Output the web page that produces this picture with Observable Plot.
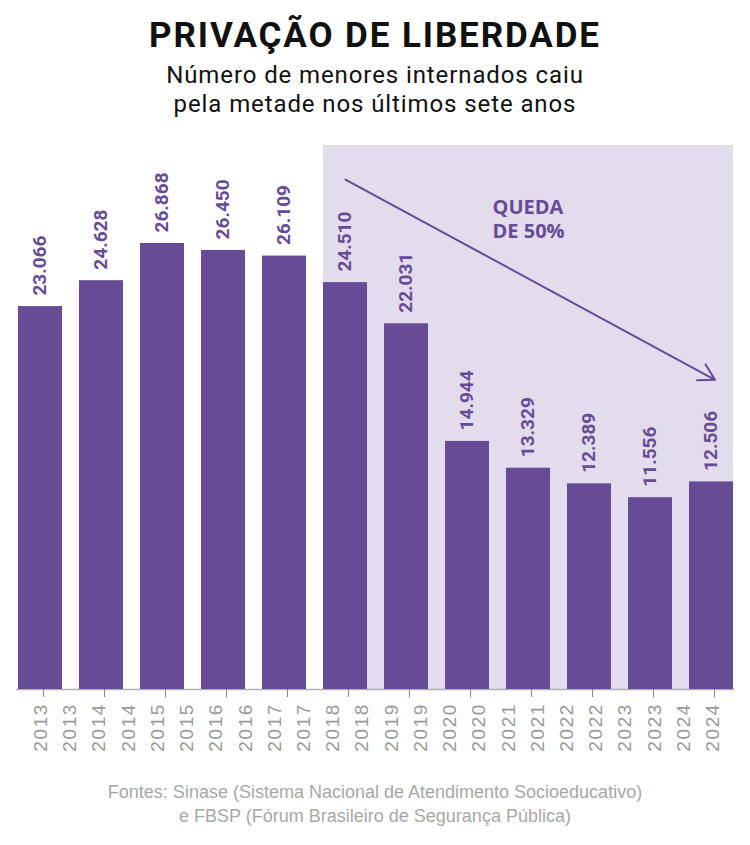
<!DOCTYPE html>
<html lang="pt-BR">
<head>
<meta charset="utf-8">
<script src="https://cdn.jsdelivr.net/npm/d3@7"></script>
<script src="https://cdn.jsdelivr.net/npm/@observablehq/plot@0.6"></script>
<style>
  html, body { margin: 0; padding: 0; background: #fff; }
  #page { position: relative; width: 750px; height: 845px; overflow: hidden; }
  #title { position: absolute; top: 16px; left: 0; width: 750px; text-align: center;
    font: 700 35px/40px Roboto, sans-serif; letter-spacing: 1.9px; color: #111; }
  #subtitle { position: absolute; top: 61px; left: 0; width: 750px; text-align: center;
    font: 400 24px/29px Roboto, sans-serif; letter-spacing: 0.9px; color: #111; }
  #chart { position: absolute; top: 130px; left: 0; }
  #footer { position: absolute; top: 780px; left: 0; width: 750px; text-align: center;
    font: 400 18px/24px "Liberation Sans", sans-serif; color: #a8a8a8; }
</style>
</head>
<body>
<div id="page">
  <div id="title">PRIVAÇÃO DE LIBERDADE</div>
  <div id="subtitle">Número de menores internados caiu<br>pela metade nos últimos sete anos</div>
  <div id="chart"></div>
  <div id="footer">Fontes: Sinase (Sistema Nacional de Atendimento Socioeducativo)<br>e FBSP (Fórum Brasileiro de Segurança Pública)</div>
</div>
<script>
// Adolescentes em internação, por ano
const years = ["2013", "2014", "2015", "2016", "2017", "2018", "2019", "2020", "2021", "2022", "2023", "2024"];
const values = [23066, 24628, 26868, 26450, 26109, 24510, 22031, 14944, 13329, 12389, 11556, 12506];

// Período destacado (queda) e seta de tendência
const highlightYears = ["2018", "2024"];
const arrowFrom = {year: "2018", value: 30720};
const arrowTo = {year: "2024", value: 18770};
const note = {year: "2020", value: 28400, text: "QUEDA\nDE 50%"};

const yMax = 32770;
const purple = "#674b96";
const shade = "#e2dcec";
const svgNS = "http://www.w3.org/2000/svg";

const data = years.map((year, i) => ({year, value: values[i]}));
const fmt = d3.formatLocale({decimal: ",", thousands: ".", grouping: [3], currency: ["R$", ""]}).format(",d");

// Faixa de fundo do período 2018–2024, desenhada com as escalas do gráfico
function highlight(index, scales) {
  const x = scales.x, y = scales.y;
  const x0 = x(highlightYears[0]);
  const x1 = x(highlightYears[1]) + x.bandwidth();
  const rect = document.createElementNS(svgNS, "rect");
  rect.setAttribute("x", x0);
  rect.setAttribute("width", x1 - x0);
  rect.setAttribute("y", y(yMax));
  rect.setAttribute("height", y(0) - y(yMax));
  rect.setAttribute("fill", shade);
  return rect;
}

// Rótulos dos anos: cada ano aparece duas vezes, em passo regular ao longo do eixo
function yearLabels(index, scales) {
  const x = scales.x, y = scales.y;
  const half = x.bandwidth() / 2;
  const first = x(years[0]) + half + 0.3;
  const last = x(years[years.length - 1]) + half + 1.4;
  const n = years.length * 2;
  const top = y(0) + 14;
  const g = document.createElementNS(svgNS, "g");
  g.setAttribute("fill", "#9a9a9a");
  g.setAttribute("font-family", "'Liberation Sans', sans-serif");
  g.setAttribute("font-size", 19);
  g.setAttribute("letter-spacing", "1.6px");
  g.setAttribute("text-anchor", "end");
  for (let i = 0; i < n; i++) {
    const xi = first + i * (last - first) / (n - 1);
    const t = document.createElementNS(svgNS, "text");
    t.setAttribute("transform", `translate(${xi},${top}) rotate(-90)`);
    t.setAttribute("dy", "0.35em");
    t.textContent = years[Math.floor(i / 2)];
    g.appendChild(t);
  }
  return g;
}

const chart = Plot.plot({
  width: 750,
  height: 640,
  marginLeft: 16,
  marginRight: 16,
  marginTop: 15,
  marginBottom: 81,
  x: {domain: years, paddingInner: 0.28, paddingOuter: 0, label: null},
  y: {domain: [0, yMax], axis: null},
  style: {fontFamily: "Roboto, sans-serif", background: "transparent"},
  marks: [
    highlight,
    Plot.ruleY([0], {stroke: "#b0b0b0", strokeWidth: 1.5}),
    Plot.barY(data, {x: "year", y: "value", fill: purple}),
    Plot.text(data, {
      x: "year", y: "value", text: d => fmt(d.value),
      rotate: -90, textAnchor: "start", dy: -11, dx: -1,
      fontSize: 19, fontWeight: 700, fill: purple
    }),
    Plot.arrow([0], {
      x1: () => arrowFrom.year, y1: () => arrowFrom.value,
      x2: () => arrowTo.year, y2: () => arrowTo.value,
      stroke: purple, strokeWidth: 2, headLength: 13.5, insetEnd: -4
    }),
    Plot.text([note], {
      x: "year", y: "value", text: "text", dx: 25,
      textAnchor: "start", lineAnchor: "middle", lineHeight: 1.2,
      fontSize: 20, fontWeight: 700, fontFamily: "'Open Sans', sans-serif",
      fill: purple, style: {letterSpacing: "0.8px"}
    }),
    // Marcas de escala, sob o centro de cada barra
    Plot.axisX({tickSize: 8, tickFormat: () => "", dx: 3, stroke: "#8a8a8a"}),
    yearLabels
  ]
});

document.getElementById("chart").appendChild(chart);
</script>
</body>
</html>
